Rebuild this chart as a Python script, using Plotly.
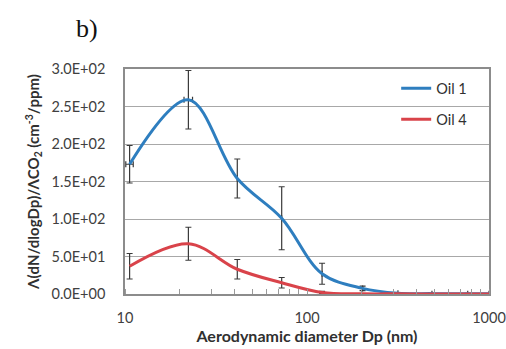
import plotly.graph_objects as go

dp = [10.6, 22.3, 41.4, 72.6, 121, 202, 316, 486, 764, 1000]
oil1 = [173, 259, 154, 101, 27, 7.5, 1.0, 0.5, 0.3, 0.2]
oil1_err = [25, 39, 26, 42, 14, 3, 1, 0.5, 0.5, 0]
oil1_xerr = [0.5, 1.2, 0, 0, 0, 0, 0, 0, 0, 0]
oil4 = [37, 67, 33, 15, 2, 0.3, 0.2, 0.1, 0.1, 0.1]
oil4_err = [17, 22, 13, 7, 1.5, 0.3, 0.2, 0.1, 0.1, 0]

err_color = "#3a3a3a"
fig = go.Figure()
fig.add_trace(go.Scatter(
    x=dp, y=oil1, name="Oil 1", legendgroup="g1", mode="lines",
    line=dict(color="#2e7ebf", width=3, shape="spline", smoothing=1.0),
    error_y=dict(type="data", array=oil1_err, color=err_color, thickness=1.2, width=3),
    error_x=dict(type="data", array=oil1_xerr, color=err_color, thickness=1.2, width=3),
))
fig.add_trace(go.Scatter(
    x=dp, y=oil4, name="Oil 4", legendgroup="g2", mode="lines",
    line=dict(color="#d9434a", width=3, shape="spline", smoothing=1.0),
    error_y=dict(type="data", array=oil4_err, color=err_color, thickness=1.2, width=3),
))

fam = "Lato, Open Sans, sans-serif"
tick_font = dict(family=fam, size=14.5, color="#404040")
fig.update_layout(
    width=506, height=349,
    margin=dict(l=125, r=17, t=69, b=55),
    paper_bgcolor="white", plot_bgcolor="white",
    showlegend=True,
    legend=dict(x=0.745, y=0.985, xanchor="left", yanchor="top", bgcolor="rgba(0,0,0,0)",
                font=dict(family=fam, size=14.5, color="#303030"),
                itemwidth=30, tracegroupgap=9),
    xaxis=dict(type="log", range=[1, 3], tickvals=[10, 100, 1000], ticktext=["10", "100", "1000"],
               automargin=False,
               showgrid=False, showline=True, linecolor="#8c8c8c", linewidth=1.5, mirror=True,
               ticks="", tickfont=tick_font, ticklabelstandoff=10,
               minor=dict(ticks="inside", ticklen=5, tickcolor="#9a9a9a", dtick="D1", showgrid=False),
               title=dict(text="<b>Aerodynamic diameter Dp (nm)</b>", font=dict(family=fam, size=16, color="#303030"), standoff=5)),
    yaxis=dict(range=[0, 300], tickvals=[0, 50, 100, 150, 200, 250, 300],
               ticktext=["0.0E+00", "5.0E+01", "1.0E+02", "1.5E+02", "2.0E+02", "2.5E+02", "3.0E+02"],
               automargin=False,
               showgrid=True, gridcolor="#a8a8a8", gridwidth=1.2, zeroline=False,
               showline=True, linecolor="#8c8c8c", linewidth=1.5, mirror=True,
               ticks="", tickfont=tick_font, ticklabelstandoff=15,
               title=dict(text="<b>Λ(dN/dlogDp)/ΛCO<sub>2</sub> (cm<sup>-3</sup>/ppm)</b>",
                          font=dict(family=fam, size=15, color="#303030"), standoff=8)),
    annotations=[dict(text="b)", x=(87 - 125) / 364, y=(294 - 29) / 225, xref="paper", yref="paper",
                      xanchor="center", yanchor="middle", showarrow=False,
                      font=dict(family="Liberation Serif, serif", size=26, color="#111111"))],
)
fig.write_html("out.html")
